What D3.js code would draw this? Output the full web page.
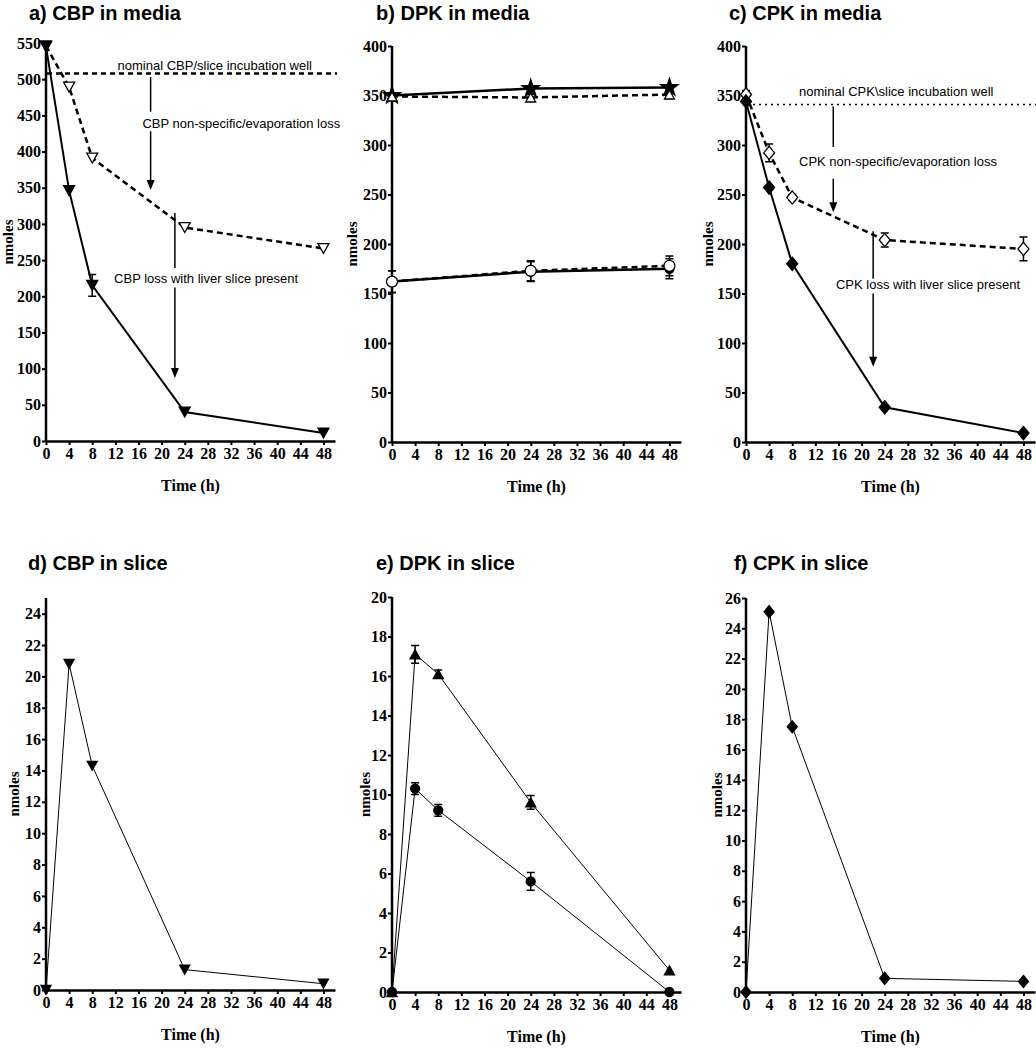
<!DOCTYPE html>
<html><head><meta charset="utf-8">
<script src="https://cdn.jsdelivr.net/npm/d3@7"></script>
<style>
body{margin:0;background:#fff;}
svg{display:block;}
</style></head>
<body>
<svg id="chart" width="1036" height="1050"></svg>
<script>
// ---------- data ----------
const xTicks = [0,4,8,12,16,20,24,28,32,36,40,44,48];
const times5 = [0,4,8,24,48];
const times3 = [0,24,48];

// a) CBP in media
const aSlice = [545,346,215,40,11];
const aSliceErr = [0,0,15,0,0];
const aControl = [546,489,391,295,266];
const aNominal = 508;
const aYTicks = [0,50,100,150,200,250,300,350,400,450,500,550];

// b) DPK in media
const bStarSolid = [350,357,358];
const bTriDashed = [349,348,351];
const bTriErr = [0,3,4];
const bCircSolid = [162,172,175];
const bCircDashed = [162,173,178];
const bCircErr = [11,10,10];
const bYTicks = [0,50,100,150,200,250,300,350,400];

// c) CPK in media
const cControl = [351,292,247,204,195];
const cControlErr = [4,9,3,7,12];
const cSlice = [344,257,180,35,9];
const cNominal = 341;
const cYTicks = [0,50,100,150,200,250,300,350,400];

// d) CBP in slice
const dSlice = [0,20.8,14.3,1.3,0.4];
const dYTicks = [0,2,4,6,8,10,12,14,16,18,20,22,24];

// e) DPK in slice
const eTri = [0,17.1,16.1,9.6,1.1];
const eTriErr = [0,0.45,0.2,0.35,0];
const eCirc = [0,10.3,9.2,5.6,0];
const eCircErr = [0,0.3,0.3,0.45,0];
const eYTicks = [0,2,4,6,8,10,12,14,16,18,20];

// f) CPK in slice
const fSlice = [0,25.1,17.5,0.9,0.7];
const fYTicks = [0,2,4,6,8,10,12,14,16,18,20,22,24,26];

// ---------- drawing ----------
const svg = d3.select("#chart");
const SERIF = "'Liberation Serif','Times New Roman',serif";
const SANS = "'Liberation Sans',Arial,sans-serif";

function markerPath(type, s){
  const w=s, h=s*0.9;
  if(type==='tdown') return `M${-w/2},${-h/2}L${w/2},${-h/2}L0,${h/2}Z`;
  if(type==='tup') return `M${-w/2},${h/2}L${w/2},${h/2}L0,${-h/2}Z`;
  if(type==='diamond') return `M0,${-s*0.6}L${s/2},0L0,${s*0.6}L${-s/2},0Z`;
  if(type==='circle') return d3.symbol(d3.symbolCircle, Math.PI*(s/2)*(s/2))();
  if(type==='star') return d3.symbol(d3.symbolStar, s*s*0.55)();
}

function panel(cfg){
  const g = svg.append("g");
  const x = d3.scaleLinear().domain([0,50]).range([cfg.x0, cfg.x0+289]);
  const y = d3.scaleLinear().domain([0,cfg.ymax]).range([cfg.yb, cfg.yt]);

  // title
  svg.append("text").attr("x",cfg.tx).attr("y",cfg.ty)
    .attr("font-family",SANS).attr("font-weight","bold").attr("font-size",20)
    .text(cfg.title);

  // axes
  const ax = g.append("g").attr("transform",`translate(0,${cfg.yb})`)
    .call(d3.axisBottom(x).tickValues(xTicks).tickSize(4).tickSizeOuter(0).tickPadding(3));
  const ay = g.append("g").attr("transform",`translate(${cfg.x0},0)`)
    .call(d3.axisLeft(y).tickValues(cfg.yTicks).tickSize(4).tickSizeOuter(0).tickPadding(1));
  [ax,ay].forEach(a=>{
    a.select(".domain").attr("stroke","#000").attr("stroke-width",2.5);
    a.selectAll(".tick line").attr("stroke","#000").attr("stroke-width",2);
    a.selectAll(".tick text").attr("font-family",SERIF).attr("font-weight","bold")
      .attr("font-size",16).attr("fill","#000");
  });
  ay.select(".domain").attr("d",`M0,${cfg.yb+1}V${cfg.ytop}`);

  // axis labels
  g.append("text").attr("x",(cfg.x0+cfg.x0+289)/2).attr("y",cfg.yb+50)
    .attr("text-anchor","middle").attr("font-family",SERIF).attr("font-weight","bold")
    .attr("font-size",16).text("Time (h)");
  g.append("text").attr("transform",`translate(${cfg.x0-cfg.lblOff},${(cfg.yb+cfg.yt)/2}) rotate(-90)`)
    .attr("text-anchor","middle").attr("font-family",SERIF).attr("font-weight","bold")
    .attr("font-size",15).text("nmoles");

  const pg = g.append("g");
  (cfg.refs||[]).forEach(r=>{
    pg.append("line").attr("x1",cfg.x0+1).attr("x2",cfg.x0+291)
      .attr("y1",y(r.v)).attr("y2",y(r.v)).attr("stroke","#000")
      .attr("stroke-width",r.w).attr("stroke-dasharray",r.dash);
  });
  (cfg.texts||[]).forEach(t=>{
    pg.append("text").attr("x",x(t.t)).attr("y",y(t.v)).attr("text-anchor","middle")
      .attr("font-family",SANS).attr("font-size",13).attr("fill","#000").text(t.s);
  });
  (cfg.arrows||[]).forEach(a=>{
    const ax0=x(a.t), y1=y(a.v1), y2=y(a.v2);
    pg.append("line").attr("x1",ax0).attr("x2",ax0).attr("y1",y1)
      .attr("y2",a.head?y2-6:y2).attr("stroke","#000").attr("stroke-width",1.5);
    if(a.head){
      pg.append("path").attr("d",`M${ax0-4},${y2-10}L${ax0+4},${y2-10}L${ax0},${y2}Z`).attr("fill","#000");
    }
  });

  cfg.series.forEach(s=>{
    const pts = s.t.map((t,i)=>({t, v:s.v[i], e:s.e?s.e[i]:0}));
    const line = d3.line().x(d=>x(d.t)).y(d=>y(d.v));
    pg.append("path").datum(pts).attr("d",line).attr("fill","none")
      .attr("stroke","#000").attr("stroke-width",s.lw)
      .attr("stroke-dasharray",s.dash||null);
    pts.forEach(d=>{
      if(d.e>0){
        const cx=x(d.t), ya=y(d.v+d.e), yb2=y(d.v-d.e);
        pg.append("path").attr("d",`M${cx},${ya}V${yb2}M${cx-4},${ya}H${cx+4}M${cx-4},${yb2}H${cx+4}`)
          .attr("stroke","#000").attr("stroke-width",1.5).attr("fill","none");
      }
    });
    pts.forEach(d=>{
      pg.append("path").attr("d",markerPath(s.m, s.ms))
        .attr("transform",`translate(${x(d.t)},${y(d.v)})`)
        .attr("fill",s.open?"#fff":"#000").attr("stroke","#000").attr("stroke-width",1.3);
    });
  });
}

// top row
panel({title:"a) CBP in media", tx:29, ty:20, x0:46, yb:441, yt:43, ytop:43, ymax:550, yTicks:aYTicks, lblOff:33,
  refs:[{v:aNominal, w:2.5, dash:"5,4"}],
  texts:[{t:29.2, v:513, s:"nominal CBP/slice incubation well"},
         {t:33.8, v:432, s:"CBP non-specific/evaporation loss"},
         {t:27.7, v:218, s:"CBP loss with liver slice present"}],
  arrows:[{t:18.1, v1:503, v2:455, head:false},
          {t:18.1, v1:428, v2:347, head:true},
          {t:22.3, v1:315, v2:239, head:false},
          {t:22.3, v1:212, v2:87, head:true}],
  series:[
    {t:times5, v:aControl, m:'tdown', open:true, ms:11, lw:2.5, dash:"6,4"},
    {t:times5, v:aSlice, e:aSliceErr, m:'tdown', open:false, ms:11, lw:2}
  ]});

panel({title:"b) DPK in media", tx:376, ty:20, x0:392, yb:442, yt:46, ytop:46, ymax:400, yTicks:bYTicks, lblOff:35,
  series:[
    {t:times3, v:bStarSolid, m:'star', open:false, ms:13, lw:2.5},
    {t:times3, v:bTriDashed, e:bTriErr, m:'tup', open:true, ms:10, lw:2.5, dash:"6,4"},
    {t:times3, v:bCircSolid, e:bCircErr, m:'circle', open:false, ms:9, lw:2.5},
    {t:times3, v:bCircDashed, e:bCircErr, m:'circle', open:true, ms:11, lw:2.5, dash:"6,4"}
  ]});

panel({title:"c) CPK in media", tx:729, ty:20, x0:746, yb:442, yt:46, ytop:46, ymax:400, yTicks:cYTicks, lblOff:33,
  refs:[{v:cNominal, w:1.5, dash:"2,4"}],
  texts:[{t:26, v:350, s:"nominal CPK\\slice incubation well"},
         {t:26.3, v:279, s:"CPK non-specific/evaporation loss"},
         {t:31.5, v:155, s:"CPK loss with liver slice present"}],
  arrows:[{t:15.1, v1:339, v2:298, head:false},
          {t:15.1, v1:266, v2:232, head:true},
          {t:22.0, v1:213, v2:165, head:false},
          {t:22.0, v1:150, v2:76, head:true}],
  series:[
    {t:times5, v:cControl, e:cControlErr, m:'diamond', open:true, ms:11, lw:2.5, dash:"6,4"},
    {t:times5, v:cSlice, m:'diamond', open:false, ms:11, lw:2}
  ]});

// bottom row
panel({title:"d) CBP in slice", tx:28, ty:570, x0:46, yb:990, yt:598, ytop:598, ymax:25, yTicks:dYTicks, lblOff:27,
  series:[{t:times5, v:dSlice, m:'tdown', open:false, ms:10, lw:1}]});

panel({title:"e) DPK in slice", tx:376, ty:570, x0:392, yb:992, yt:597, ytop:597, ymax:20, yTicks:eYTicks, lblOff:22,
  series:[
    {t:times5, v:eTri, e:eTriErr, m:'tup', open:false, ms:10, lw:1},
    {t:times5, v:eCirc, e:eCircErr, m:'circle', open:false, ms:9, lw:1}
  ]});

panel({title:"f) CPK in slice", tx:734, ty:570, x0:746, yb:992, yt:598, ytop:598, ymax:26, yTicks:fYTicks, lblOff:24,
  series:[{t:times5, v:fSlice, m:'diamond', open:false, ms:10, lw:1}]});
</script>
</body></html>
